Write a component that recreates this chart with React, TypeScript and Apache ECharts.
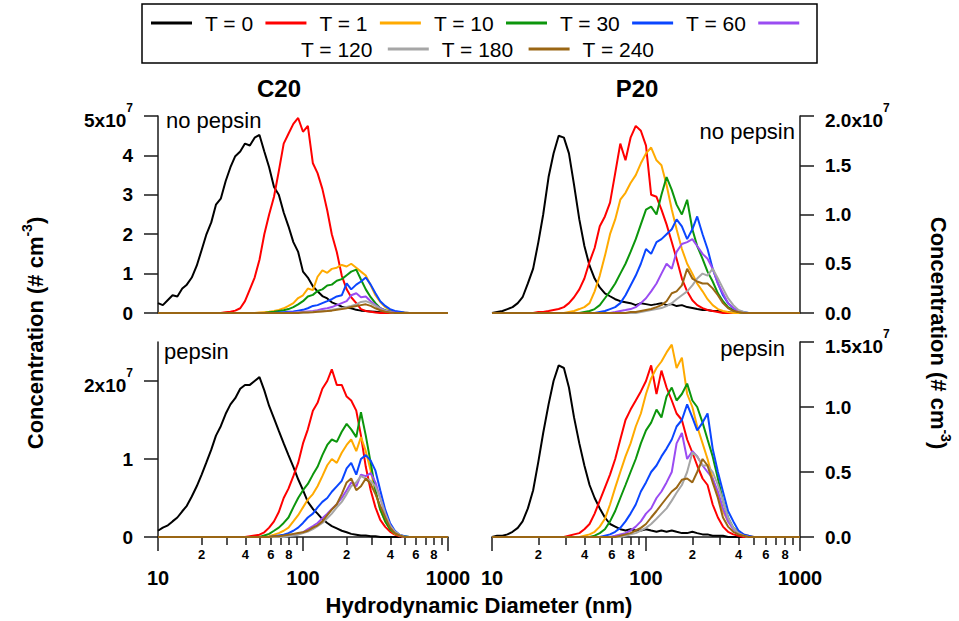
import React, { useEffect, useRef } from "react";
import * as echarts from "echarts";

// Hydrodynamic diameter (nm), shared x grid for all panels
const DIAMETER = [
  10, 10.8, 11.7, 12.6, 13.6, 14.7, 15.8, 17.1, 18.5, 20.0,
  21.5, 23.3, 25.1, 27.1, 29.3, 31.6, 34.1, 36.9, 39.8, 43.0,
  46.4, 50.1, 54.1, 58.4, 63.1, 68.1, 73.6, 79.4, 85.8, 92.6,
  100, 108, 117, 126, 136, 147, 158, 171, 185, 200,
  215, 233, 251, 271, 293, 316, 341, 369, 398, 430,
  464, 501, 541, 584, 631, 681, 736, 794, 858, 926,
  1000,
];

const SERIES_NAMES = ["T = 0", "T = 1", "T = 10", "T = 30", "T = 60", "T = 120", "T = 180", "T = 240"];
const SERIES_COLORS = ["#000000", "#FF0000", "#FFAA00", "#0C960C", "#0A46FF", "#9A4CF2", "#A6A6A6", "#9A6614"];

// Concentration values in units of 10^7 cm^-3
// C20, no pepsin
const C20_T0 = [0.25,0.2,0.33,0.45,0.42,0.62,0.72,0.9,1.2,1.6, 1.98,2.3,2.75,2.9,3.35,3.7,3.98,4.1,4.3,4.25, 4.45,4.52,4.1,3.7,3.2,3.0,2.55,2.2,1.8,1.55, 1.05,0.9,0.68,0.55,0.43,0.37,0.27,0.22,0.16,0.13, 0.12,0.08,0.06,0.05,0.04,0.03,0.02,0.02,0.01,0, 0,0,0,0,0,0,0,0,0,0, 0];
const C20_T1 = [0,0,0,0,0,0,0,0,0,0, 0,0,0,0,0.02,0.03,0.06,0.12,0.3,0.6, 0.9,1.35,2.0,2.5,2.95,3.6,4.3,4.55,4.8,4.95, 4.6,4.75,3.8,3.55,3.15,2.6,2.0,1.55,0.95,0.6, 0.4,0.25,0.1,0.05,0.03,0.01,0,0,0,0, 0,0,0,0,0,0,0,0,0,0, 0];
const C20_T10 = [0,0,0,0,0,0,0,0,0,0, 0,0,0,0,0,0,0,0,0,0, 0,0.01,0.02,0.03,0.05,0.08,0.12,0.18,0.25,0.38, 0.45,0.62,0.58,0.92,1.08,1.02,1.12,1.15,1.22,1.18, 1.25,1.15,1.05,0.95,0.7,0.45,0.28,0.15,0.08,0.04, 0.02,0.01,0,0,0,0,0,0,0,0, 0];
const C20_T30 = [0,0,0,0,0,0,0,0,0,0, 0,0,0,0,0,0,0,0,0,0, 0,0,0,0.02,0.03,0.05,0.07,0.1,0.15,0.22, 0.3,0.42,0.46,0.56,0.6,0.7,0.72,0.82,0.86,0.96, 1.05,1.1,0.85,0.6,0.4,0.25,0.12,0.07,0.04,0.02, 0.01,0,0,0,0,0,0,0,0,0, 0];
const C20_T60 = [0,0,0,0,0,0,0,0,0,0, 0,0,0,0,0,0,0,0,0,0, 0,0,0,0,0,0.01,0.02,0.03,0.04,0.06, 0.08,0.12,0.18,0.2,0.25,0.3,0.35,0.42,0.45,0.75, 0.6,0.72,0.8,0.9,0.72,0.5,0.3,0.18,0.1,0.05, 0.03,0.01,0,0,0,0,0,0,0,0, 0];
const C20_T120 = [0,0,0,0,0,0,0,0,0,0, 0,0,0,0,0,0,0,0,0,0, 0,0,0,0,0,0,0,0.01,0.01,0.02, 0.03,0.04,0.05,0.07,0.1,0.12,0.15,0.2,0.25,0.3, 0.45,0.5,0.4,0.42,0.3,0.2,0.12,0.06,0.03,0.01, 0,0,0,0,0,0,0,0,0,0, 0];
const C20_T180 = [0,0,0,0,0,0,0,0,0,0, 0,0,0,0,0,0,0,0,0,0, 0,0,0,0,0,0,0,0,0,0.01, 0.01,0.02,0.03,0.04,0.05,0.06,0.08,0.1,0.12,0.15, 0.18,0.22,0.28,0.3,0.25,0.18,0.1,0.05,0.02,0, 0,0,0,0,0,0,0,0,0,0, 0];
const C20_T240 = [0,0,0,0,0,0,0,0,0,0, 0,0,0,0,0,0,0,0,0,0, 0,0,0,0,0,0,0,0,0,0, 0.01,0.01,0.02,0.03,0.04,0.05,0.06,0.08,0.1,0.12, 0.15,0.18,0.2,0.22,0.18,0.12,0.07,0.03,0.01,0, 0,0,0,0,0,0,0,0,0,0, 0];

// P20, no pepsin
const P20_T0 = [0,0.01,0.02,0.04,0.06,0.1,0.16,0.3,0.45,0.72, 1.0,1.38,1.62,1.8,1.78,1.62,1.3,0.95,0.68,0.48, 0.35,0.26,0.2,0.17,0.14,0.12,0.11,0.1,0.08,0.1, 0.09,0.08,0.09,0.1,0.08,0.09,0.07,0.08,0.06,0.05, 0.04,0.03,0.03,0.02,0.02,0.01,0.01,0,0,0, 0,0,0,0,0,0,0,0,0,0, 0];
const P20_T1 = [0,0,0,0,0,0,0,0,0,0.01, 0.01,0.02,0.03,0.04,0.06,0.1,0.16,0.24,0.35,0.52, 0.66,0.88,0.98,1.12,1.42,1.72,1.55,1.78,1.9,1.85, 1.7,1.2,1.18,1.05,0.9,0.72,0.55,0.35,0.22,0.13, 0.08,0.05,0.03,0.02,0.01,0,0,0,0,0, 0,0,0,0,0,0,0,0,0,0, 0];
const P20_T10 = [0,0,0,0,0,0,0,0,0,0, 0,0,0,0,0,0.01,0.02,0.04,0.06,0.1, 0.22,0.38,0.58,0.8,0.95,1.15,1.22,1.32,1.4,1.52, 1.62,1.68,1.55,1.5,1.3,1.05,0.85,0.65,0.5,0.4, 0.3,0.22,0.14,0.08,0.04,0.02,0.01,0,0,0, 0,0,0,0,0,0,0,0,0,0, 0];
const P20_T30 = [0,0,0,0,0,0,0,0,0,0, 0,0,0,0,0,0,0,0,0.01,0.02, 0.04,0.08,0.15,0.22,0.3,0.4,0.5,0.62,0.75,0.9, 1.05,1.08,1.0,1.2,1.38,1.25,1.1,1.0,1.15,0.85, 0.68,0.55,0.42,0.32,0.2,0.12,0.06,0.03,0.01,0, 0,0,0,0,0,0,0,0,0,0, 0];
const P20_T60 = [0,0,0,0,0,0,0,0,0,0, 0,0,0,0,0,0,0,0,0,0, 0,0.01,0.02,0.04,0.06,0.1,0.18,0.28,0.38,0.5, 0.65,0.6,0.72,0.75,0.8,0.85,0.95,0.88,0.75,0.85, 0.98,0.8,0.65,0.45,0.3,0.18,0.1,0.05,0.02,0.01, 0,0,0,0,0,0,0,0,0,0, 0];
const P20_T120 = [0,0,0,0,0,0,0,0,0,0, 0,0,0,0,0,0,0,0,0,0, 0,0,0,0,0.01,0.02,0.03,0.04,0.06,0.1, 0.15,0.22,0.3,0.4,0.5,0.45,0.62,0.7,0.72,0.75, 0.68,0.6,0.55,0.45,0.3,0.2,0.1,0.05,0.02,0, 0,0,0,0,0,0,0,0,0,0, 0];
const P20_T180 = [0,0,0,0,0,0,0,0,0,0, 0,0,0,0,0,0,0,0,0,0, 0,0,0,0,0,0,0,0,0,0.01, 0.02,0.03,0.04,0.05,0.07,0.1,0.14,0.18,0.22,0.28, 0.35,0.4,0.38,0.45,0.35,0.25,0.15,0.08,0.03,0.01, 0,0,0,0,0,0,0,0,0,0, 0];
const P20_T240 = [0,0,0,0,0,0,0,0,0,0, 0,0,0,0,0,0,0,0,0,0, 0,0,0,0,0,0,0,0.01,0.01,0.02, 0.03,0.04,0.06,0.08,0.12,0.2,0.22,0.28,0.45,0.35, 0.32,0.3,0.3,0.25,0.18,0.1,0.05,0.02,0.01,0, 0,0,0,0,0,0,0,0,0,0, 0];

// C20, pepsin
const C20P_T0 = [0.08,0.12,0.15,0.2,0.25,0.33,0.4,0.52,0.65,0.8, 0.95,1.12,1.3,1.42,1.58,1.7,1.78,1.9,1.95,1.95, 2.0,2.05,1.88,1.68,1.52,1.36,1.2,1.05,0.9,0.74, 0.6,0.45,0.36,0.3,0.23,0.18,0.14,0.11,0.08,0.06, 0.04,0.03,0.02,0.02,0.01,0.01,0,0,0,0, 0,0,0,0,0,0,0,0,0,0, 0];
const C20P_T1 = [0,0,0,0,0,0,0,0,0,0, 0,0,0,0,0,0,0,0,0,0.01, 0.02,0.03,0.06,0.12,0.2,0.32,0.5,0.62,0.78,0.95, 1.2,1.38,1.62,1.72,1.9,2.0,2.15,1.95,1.95,1.8, 1.75,1.62,1.3,0.9,0.6,0.38,0.22,0.13,0.07,0.03, 0.01,0,0,0,0,0,0,0,0,0, 0];
const C20P_T10 = [0,0,0,0,0,0,0,0,0,0, 0,0,0,0,0,0,0,0,0,0, 0,0,0,0.01,0.03,0.05,0.08,0.12,0.2,0.28, 0.38,0.48,0.55,0.65,0.78,0.92,1.0,0.95,1.08,1.18, 1.25,1.1,1.28,1.1,0.85,0.58,0.35,0.2,0.1,0.04, 0.02,0,0,0,0,0,0,0,0,0, 0];
const C20P_T30 = [0,0,0,0,0,0,0,0,0,0, 0,0,0,0,0,0,0,0,0,0, 0,0,0.02,0.04,0.08,0.12,0.18,0.25,0.38,0.5, 0.6,0.68,0.8,0.9,1.05,1.18,1.25,1.22,1.35,1.45, 1.38,1.28,1.6,1.3,0.95,0.6,0.35,0.2,0.1,0.05, 0.02,0.01,0,0,0,0,0,0,0,0, 0];
const C20P_T60 = [0,0,0,0,0,0,0,0,0,0, 0,0,0,0,0,0,0,0,0,0, 0,0,0,0,0.01,0.02,0.03,0.05,0.08,0.12, 0.18,0.25,0.3,0.38,0.45,0.5,0.58,0.65,0.72,0.88, 0.95,0.8,1.0,1.05,0.98,0.85,0.6,0.35,0.18,0.08, 0.03,0.01,0,0,0,0,0,0,0,0, 0];
const C20P_T120 = [0,0,0,0,0,0,0,0,0,0, 0,0,0,0,0,0,0,0,0,0, 0,0,0,0,0,0,0.01,0.02,0.03,0.04, 0.06,0.1,0.14,0.18,0.24,0.3,0.36,0.42,0.5,0.6, 0.7,0.65,0.8,0.78,0.82,0.7,0.5,0.3,0.15,0.06, 0.02,0,0,0,0,0,0,0,0,0, 0];
const C20P_T180 = [0,0,0,0,0,0,0,0,0,0, 0,0,0,0,0,0,0,0,0,0, 0,0,0,0,0,0,0,0.01,0.02,0.03, 0.05,0.07,0.1,0.14,0.18,0.24,0.3,0.38,0.45,0.55, 0.65,0.7,0.78,0.75,0.72,0.65,0.5,0.3,0.15,0.07, 0.03,0,0,0,0,0,0,0,0,0, 0];
const C20P_T240 = [0,0,0,0,0,0,0,0,0,0, 0,0,0,0,0,0,0,0,0,0, 0,0,0,0,0.01,0.01,0.02,0.03,0.04,0.05, 0.06,0.08,0.12,0.15,0.2,0.28,0.35,0.42,0.55,0.7, 0.75,0.6,0.65,0.75,0.68,0.55,0.4,0.25,0.12,0.05, 0.02,0,0,0,0,0,0,0,0,0, 0];

// P20, pepsin
const P20P_T0 = [0,0.01,0.01,0.02,0.04,0.07,0.12,0.22,0.36,0.58, 0.8,1.02,1.2,1.32,1.3,1.15,0.92,0.72,0.55,0.4, 0.3,0.22,0.15,0.1,0.08,0.06,0.05,0.06,0.05,0.05, 0.06,0.05,0.04,0.05,0.04,0.05,0.04,0.03,0.03,0.04, 0.03,0.02,0.02,0.01,0.01,0.01,0,0,0,0, 0,0,0,0,0,0,0,0,0,0, 0];
const P20P_T1 = [0,0,0,0,0,0,0,0,0,0, 0,0,0,0,0,0.01,0.02,0.03,0.06,0.1, 0.18,0.28,0.38,0.48,0.6,0.75,0.9,0.98,1.05,1.12, 1.2,1.32,1.1,1.28,1.15,1.05,0.95,0.9,0.75,0.65, 0.55,0.45,0.4,0.25,0.15,0.08,0.04,0.02,0.01,0, 0,0,0,0,0,0,0,0,0,0, 0];
const P20P_T10 = [0,0,0,0,0,0,0,0,0,0, 0,0,0,0,0,0,0,0,0.01,0.02, 0.04,0.08,0.14,0.25,0.38,0.5,0.62,0.72,0.85,0.95, 1.1,1.22,1.3,1.35,1.42,1.48,1.3,1.38,1.1,1.0, 0.85,0.72,0.6,0.45,0.32,0.2,0.12,0.07,0.04,0.02, 0.01,0,0,0,0,0,0,0,0,0, 0];
const P20P_T30 = [0,0,0,0,0,0,0,0,0,0, 0,0,0,0,0,0,0,0,0,0, 0.01,0.03,0.06,0.12,0.2,0.3,0.4,0.5,0.6,0.72, 0.82,0.88,0.98,0.92,1.08,1.15,1.05,1.1,1.18,1.05, 1.0,0.88,0.75,0.62,0.45,0.28,0.15,0.07,0.03,0.01, 0,0,0,0,0,0,0,0,0,0, 0];
const P20P_T60 = [0,0,0,0,0,0,0,0,0,0, 0,0,0,0,0,0,0,0,0,0, 0,0,0.01,0.02,0.04,0.07,0.12,0.18,0.25,0.35, 0.42,0.5,0.55,0.62,0.68,0.75,0.85,0.9,1.02,0.92, 0.82,0.88,0.95,0.68,0.5,0.35,0.2,0.12,0.05,0.02, 0.01,0,0,0,0,0,0,0,0,0, 0];
const P20P_T120 = [0,0,0,0,0,0,0,0,0,0, 0,0,0,0,0,0,0,0,0,0, 0,0,0,0,0.01,0.02,0.03,0.05,0.08,0.12, 0.18,0.22,0.3,0.35,0.42,0.5,0.72,0.8,0.6,0.66, 0.62,0.55,0.5,0.45,0.35,0.22,0.12,0.06,0.03,0.01, 0,0,0,0,0,0,0,0,0,0, 0];
const P20P_T180 = [0,0,0,0,0,0,0,0,0,0, 0,0,0,0,0,0,0,0,0,0, 0,0,0,0,0,0,0.01,0.02,0.03,0.05, 0.07,0.1,0.14,0.18,0.22,0.28,0.34,0.4,0.5,0.65, 0.62,0.55,0.55,0.5,0.4,0.28,0.15,0.07,0.03,0.01, 0,0,0,0,0,0,0,0,0,0, 0];
const P20P_T240 = [0,0,0,0,0,0,0,0,0,0, 0,0,0,0,0,0,0,0,0,0, 0,0,0,0,0,0.01,0.02,0.03,0.05,0.07, 0.1,0.15,0.2,0.25,0.3,0.35,0.38,0.44,0.45,0.42, 0.5,0.6,0.55,0.42,0.3,0.15,0.08,0.04,0.02,0.01, 0,0,0,0,0,0,0,0,0,0, 0];

// Axis ticks
const TL_Y_TICKS = [0, 1, 2, 3, 4, 5];
const TR_Y_TICKS = [0, 0.5, 1.0, 1.5, 2.0];
const BL_Y_TICKS = [0, 1, 2];
const BR_Y_TICKS = [0, 0.5, 1.0, 1.5];
const X_MINOR_TICKS = [20, 30, 40, 50, 60, 70, 80, 90, 200, 300, 400, 500, 600, 700, 800, 900];
const X_MINOR_LABELS = [20, 40, 60, 80, 200, 400, 600, 800];
const X_MAJOR_TICKS = [10, 100, 1000];

const FONT = '"Liberation Sans", Arial, Helvetica, sans-serif';
const AXIS_COLOR = "#1a1a1a";

const supRich = {
  b: { fontFamily: FONT, fontSize: 19, fontWeight: "bold", color: "#000", padding: [9, 0, 0, 0], verticalAlign: "bottom" },
  s: { fontFamily: FONT, fontSize: 12, fontWeight: "bold", color: "#000", lineHeight: 14, verticalAlign: "top" },
};

function makeYAxis(gridIndex: number, position: string, max: number, ticks: number[], fmt: (v: number) => string) {
  return {
    type: "value",
    gridIndex,
    position,
    min: 0,
    max,
    axisLine: { show: true, onZero: false, lineStyle: { color: AXIS_COLOR, width: 1.5 } },
    axisTick: { show: true, customValues: ticks, length: 14, inside: false, lineStyle: { color: AXIS_COLOR, width: 1.5 } },
    axisLabel: {
      customValues: ticks,
      formatter: fmt,
      margin: 25,
      color: "#000",
      fontFamily: FONT,
      fontSize: 19,
      fontWeight: "bold",
      rich: supRich,
    },
    splitLine: { show: false },
  };
}

function hiddenX(gridIndex: number) {
  return { type: "log", logBase: 10, gridIndex, min: 10, max: 1000, show: false };
}

function minorX(gridIndex: number) {
  return {
    type: "log",
    logBase: 10,
    gridIndex,
    min: 10,
    max: 1000,
    position: "bottom",
    axisLine: { show: true, onZero: false, lineStyle: { color: AXIS_COLOR, width: 1.5 } },
    axisTick: { show: true, customValues: X_MINOR_TICKS, length: 8, lineStyle: { color: AXIS_COLOR, width: 1.5 } },
    axisLabel: {
      customValues: X_MINOR_LABELS,
      formatter: (v: number) => String(Math.round(v / Math.pow(10, Math.floor(Math.log10(v) + 1e-9)))),
      margin: 11,
      color: "#000",
      fontFamily: FONT,
      fontSize: 13,
      fontWeight: "bold",
    },
    splitLine: { show: false },
    minorTick: { show: false },
  };
}

function majorX(gridIndex: number) {
  return {
    type: "log",
    logBase: 10,
    gridIndex,
    min: 10,
    max: 1000,
    position: "bottom",
    axisLine: { show: false, onZero: false },
    axisTick: { show: true, customValues: X_MAJOR_TICKS, length: 14, lineStyle: { color: AXIS_COLOR, width: 1.5 } },
    axisLabel: {
      customValues: X_MAJOR_TICKS,
      formatter: (v: number) => String(Math.round(v)),
      margin: 31,
      color: "#000",
      fontFamily: FONT,
      fontSize: 20,
      fontWeight: "bold",
    },
    splitLine: { show: false },
  };
}

const PANELS = [
  { xAxisIndex: 0, yAxisIndex: 0, sets: [C20_T0, C20_T1, C20_T10, C20_T30, C20_T60, C20_T120, C20_T180, C20_T240] },
  { xAxisIndex: 1, yAxisIndex: 1, sets: [P20_T0, P20_T1, P20_T10, P20_T30, P20_T60, P20_T120, P20_T180, P20_T240] },
  { xAxisIndex: 2, yAxisIndex: 2, sets: [C20P_T0, C20P_T1, C20P_T10, C20P_T30, C20P_T60, C20P_T120, C20P_T180, C20P_T240] },
  { xAxisIndex: 4, yAxisIndex: 3, sets: [P20P_T0, P20P_T1, P20P_T10, P20P_T30, P20P_T60, P20P_T120, P20P_T180, P20P_T240] },
];

function buildOption() {
  const series: any[] = [];
  PANELS.forEach((p) => {
    p.sets.forEach((vals, k) => {
      series.push({
        type: "line",
        name: SERIES_NAMES[k],
        xAxisIndex: p.xAxisIndex,
        yAxisIndex: p.yAxisIndex,
        data: DIAMETER.map((d, i) => [d, vals[i]]),
        symbol: "none",
        showSymbol: false,
        silent: true,
        z: 2 + k,
        color: SERIES_COLORS[k],
        lineStyle: { width: 2, color: SERIES_COLORS[k] },
        itemStyle: { color: SERIES_COLORS[k] },
      });
    });
  });

  const legendText = { fontFamily: FONT, fontSize: 21, color: "#000", lineHeight: 24, padding: [0, 0, 0, 8] };
  const titleRich = {
    a: { fontFamily: FONT, fontSize: 22, fontWeight: "bold", fill: "#000", padding: [4, 0, 0, 0], verticalAlign: "bottom" },
    s: { fontFamily: FONT, fontSize: 14, fontWeight: "bold", fill: "#000", lineHeight: 16, verticalAlign: "top" },
  };

  return {
    animation: false,
    backgroundColor: "#ffffff",
    grid: [
      { left: 158, top: 116, width: 290, height: 197 },
      { left: 492, top: 116, width: 308, height: 197 },
      { left: 158, top: 342, width: 290, height: 195 },
      { left: 492, top: 342, width: 308, height: 195 },
    ],
    xAxis: [hiddenX(0), hiddenX(1), minorX(2), majorX(2), minorX(3), majorX(3)],
    yAxis: [
      makeYAxis(0, "left", 5, TL_Y_TICKS, (v: number) => (v === 5 ? "{b|5x10}{s|7}" : String(v))),
      makeYAxis(1, "right", 2, TR_Y_TICKS, (v: number) => (v === 2 ? "{b|2.0x10}{s|7}" : v.toFixed(1))),
      makeYAxis(2, "left", 2.5, BL_Y_TICKS, (v: number) => (v === 2 ? "{b|2x10}{s|7}" : String(v))),
      makeYAxis(3, "right", 1.5, BR_Y_TICKS, (v: number) => (v === 1.5 ? "{b|1.5x10}{s|7}" : v.toFixed(1))),
    ],
    legend: [
      {
        left: 151,
        top: 11,
        padding: 0,
        orient: "horizontal",
        icon: "rect",
        itemWidth: 41,
        itemHeight: 3,
        itemGap: 12,
        selectedMode: false,
        data: SERIES_NAMES.slice(0, 6),
        formatter: (name: string) => (name === "T = 120" ? "" : name),
        textStyle: legendText,
      },
      {
        left: 247,
        top: 37,
        padding: 0,
        orient: "horizontal",
        icon: "rect",
        itemWidth: 41,
        itemHeight: 3,
        itemGap: 15,
        selectedMode: false,
        data: [{ name: "T = 120", itemStyle: { opacity: 0 } }, "T = 180", "T = 240"],
        textStyle: legendText,
      },
    ],
    graphic: [
      { type: "rect", shape: { x: 142, y: 4, width: 675, height: 59 }, style: { fill: "none", stroke: "#000", lineWidth: 1.5 }, silent: true },
      { type: "text", x: 279, y: 88, style: { text: "C20", fontFamily: FONT, fontSize: 24, fontWeight: "bold", fill: "#000", align: "center", verticalAlign: "middle" } },
      { type: "text", x: 637, y: 88, style: { text: "P20", fontFamily: FONT, fontSize: 24, fontWeight: "bold", fill: "#000", align: "center", verticalAlign: "middle" } },
      { type: "text", x: 166, y: 120, style: { text: "no pepsin", fontFamily: FONT, fontSize: 22, fill: "#000", align: "left", verticalAlign: "middle" } },
      { type: "text", x: 795, y: 131, style: { text: "no pepsin", fontFamily: FONT, fontSize: 22, fill: "#000", align: "right", verticalAlign: "middle" } },
      { type: "text", x: 164, y: 351, style: { text: "pepsin", fontFamily: FONT, fontSize: 22, fill: "#000", align: "left", verticalAlign: "middle" } },
      { type: "text", x: 785, y: 348, style: { text: "pepsin", fontFamily: FONT, fontSize: 22, fill: "#000", align: "right", verticalAlign: "middle" } },
      { type: "text", x: 479, y: 605, style: { text: "Hydrodynamic Diameter (nm)", fontFamily: FONT, fontSize: 22, fontWeight: "bold", fill: "#000", align: "center", verticalAlign: "middle" } },
      {
        type: "text",
        x: 33,
        y: 333,
        rotation: Math.PI / 2,
        style: { text: "{a|Concentration (# cm}{s|-3}{a|)}", align: "center", verticalAlign: "middle", rich: titleRich },
      },
      {
        type: "text",
        x: 940,
        y: 333,
        rotation: -Math.PI / 2,
        style: { text: "{a|Concentration (# cm}{s|-3}{a|)}", align: "center", verticalAlign: "middle", rich: titleRich },
      },
    ],
    series,
  };
}

export default function App() {
  const ref = useRef<HTMLDivElement>(null);
  useEffect(() => {
    document.body.style.margin = "0";
    if (!ref.current) return;
    const chart = echarts.init(ref.current, undefined, { renderer: "svg" });
    chart.setOption(buildOption() as any);
    return () => chart.dispose();
  }, []);
  return <div ref={ref} style={{ width: 959, height: 621, background: "#fff" }} />;
}
